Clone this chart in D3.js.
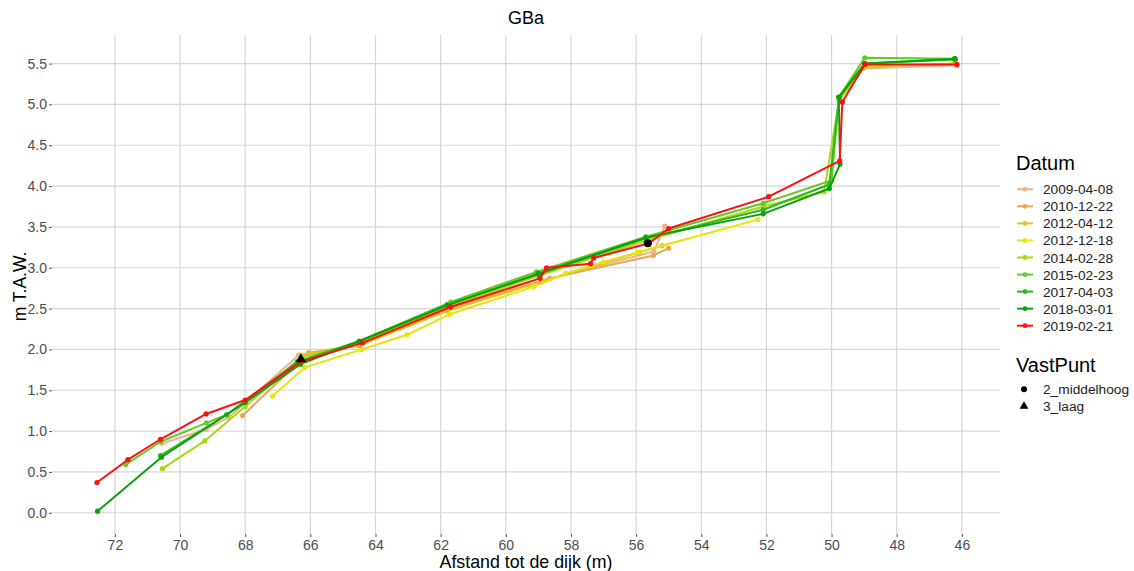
<!DOCTYPE html>
<html><head><meta charset="utf-8">
<script src="https://cdn.jsdelivr.net/npm/d3@7"></script>
<style>
html,body{margin:0;padding:0;background:#fff;}
svg{display:block;font-family:"Liberation Sans",Arial,sans-serif;}
</style></head>
<body><svg id="c" width="1134" height="571"></svg>
<script>
// ---- data ----
const datums = ["2009-04-08","2010-12-22","2012-04-12","2012-12-18","2014-02-28","2015-02-23","2017-04-03","2018-03-01","2019-02-21"];
const kleuren = ["#EBB48C","#E8A850","#E6C224","#E6E60A","#A8D810","#66C824","#2CB81C","#0CA00C","#FF1010"];

const afstand2009 = [70.55,69.2,68.5,66.36,64.5,61.8,58.9,55.45,55.12,null,49.03,46.17];
const hoogte2009  = [0.85,1.02,1.17,1.93,2.05,2.50,2.84,3.20,3.51,null,5.44,5.48];
const afstand2010 = [68.08,66.05,64.5,61.8,58.65,55.47,55.0];
const hoogte2010  = [1.19,1.96,2.05,2.48,2.87,3.15,3.24];
const afstand2012a = [66.3,64.5,61.8,58.9,55.9,55.2];
const hoogte2012a  = [1.93,2.05,2.47,2.83,3.19,3.27];
const afstand2012b = [67.16,66.17,64.43,63.03,61.72,59.14,58.16,57.01,55.94,52.26];
const hoogte2012b  = [1.43,1.78,2.00,2.18,2.43,2.77,2.93,3.07,3.19,3.59];
const afstand2014 = [70.54,69.24,68.0,66.3,64.5,61.8,59.0,55.7,52.1,50.23,49.77,48.98,46.22];
const hoogte2014  = [0.54,0.88,1.30,1.90,2.08,2.52,2.90,3.33,3.75,3.93,5.05,5.46,5.50];
const afstand2015 = [71.67,70.6,69.19,68.57,66.4,64.5,61.69,59.06,55.7,52.1,50.0,49.77,48.98,46.22];
const hoogte2015  = [0.59,0.87,1.10,1.20,1.83,2.10,2.58,2.95,3.38,3.79,4.07,5.09,5.57,5.56];
const afstand2017 = [70.6,68.57,66.4,64.5,61.8,59.0,55.7,52.1,50.07,49.77,48.98,46.2];
const hoogte2017  = [0.70,1.20,1.85,2.10,2.55,2.92,3.36,3.71,4.02,5.08,5.50,5.55];
const afstand2018 = [72.53,70.57,68.0,66.3,64.5,61.8,59.0,55.7,52.1,50.07,49.74,49.78,48.98,46.22];
const hoogte2018  = [0.02,0.68,1.35,1.82,2.10,2.54,2.93,3.37,3.66,3.97,4.27,5.09,5.50,5.56];
const afstand2019 = [72.55,71.6,70.6,69.2,68.0,66.3,64.4,61.7,58.95,58.75,57.4,57.3,55.6,55.0,51.93,49.75,49.67,48.98,46.15];
const hoogte2019  = [0.37,0.65,0.90,1.21,1.38,1.85,2.08,2.52,2.87,3.00,3.05,3.12,3.30,3.48,3.87,4.31,5.03,5.49,5.49];

const vastNamen = ["2_middelhoog","3_laag"];
const vastAfstand = [55.64,66.29];
const vastHoogte = [3.30,1.88];

const xTicks = [72,70,68,66,64,62,60,58,56,54,52,50,48,46];
const yTicks = [0,0.5,1,1.5,2,2.5,3,3.5,4,4.5,5,5.5];

const reeksen = [
  [afstand2009,hoogte2009],[afstand2010,hoogte2010],[afstand2012a,hoogte2012a],
  [afstand2012b,hoogte2012b],[afstand2014,hoogte2014],[afstand2015,hoogte2015],
  [afstand2017,hoogte2017],[afstand2018,hoogte2018],[afstand2019,hoogte2019]
].map((r,i)=>({datum:datums[i],kleur:kleuren[i],pts:r[0].map((x,j)=>({x:x,y:r[1][j]}))}));

// ---- layout ----
const svg = d3.select("#c");
const L=52,R=1000,T=35,B=534;
const x = d3.scaleLinear().domain([73.93,44.83]).range([L,R]);
const y = d3.scaleLinear().domain([-0.26,5.85]).range([B,T]);
const grid="#d6d6d6";

// grid
svg.append("g").selectAll("line").data(xTicks).join("line")
  .attr("x1",d=>x(d)).attr("x2",d=>x(d)).attr("y1",T).attr("y2",B)
  .attr("stroke",grid).attr("stroke-width",1.2);
svg.append("g").selectAll("line").data(yTicks).join("line")
  .attr("y1",d=>y(d)).attr("y2",d=>y(d)).attr("x1",L).attr("x2",R)
  .attr("stroke",grid).attr("stroke-width",1.2);

// axes
const xAx = svg.append("g").attr("transform",`translate(0,${B})`)
  .call(d3.axisBottom(x).tickValues(xTicks).tickFormat(d3.format("d")).tickSize(3).tickPadding(3));
const yAx = svg.append("g").attr("transform",`translate(${L},0)`)
  .call(d3.axisLeft(y).tickValues(yTicks).tickFormat(d3.format(".1f")).tickSize(3).tickPadding(2));
[xAx,yAx].forEach(a=>{
  a.select(".domain").remove();
  a.selectAll(".tick line").attr("stroke","#555").attr("stroke-width",1);
  a.selectAll(".tick text").attr("fill","#4d4d4d").attr("font-size","14px")
    .attr("font-family","Liberation Sans, Arial, sans-serif");
});

// lines & points
const line = d3.line().defined(d=>d.x!=null).x(d=>x(d.x)).y(d=>y(d.y));
const gS = svg.append("g");
reeksen.forEach(s=>{
  gS.append("path").datum(s.pts).attr("d",line).attr("fill","none")
    .attr("stroke",s.kleur).attr("stroke-width",2).attr("stroke-linejoin","round");
  gS.append("g").selectAll("circle").data(s.pts.filter(d=>d.x!=null)).join("circle")
    .attr("cx",d=>x(d.x)).attr("cy",d=>y(d.y)).attr("r",2.6).attr("fill",s.kleur);
});

// fixed points
svg.append("circle").attr("cx",x(vastAfstand[0])).attr("cy",y(vastHoogte[0])).attr("r",4).attr("fill","#000");
svg.append("path").attr("d",d3.symbol(d3.symbolTriangle,48)())
  .attr("transform",`translate(${x(vastAfstand[1])},${y(vastHoogte[1])})`).attr("fill","#000");

// titles
svg.append("text").attr("x",(L+R)/2).attr("y",24).attr("text-anchor","middle")
  .attr("font-size","18px").attr("fill","#000").text("GBa");
svg.append("text").attr("x",(L+R)/2).attr("y",568).attr("text-anchor","middle")
  .attr("font-size","17.8px").attr("fill","#000").text("Afstand tot de dijk (m)");
svg.append("text").attr("transform",`translate(26,${(T+B)/2+2}) rotate(-90)`).attr("text-anchor","middle")
  .attr("font-size","17.5px").attr("fill","#000").text("m T.A.W.");

// legend Datum
const lg = svg.append("g");
lg.append("text").attr("x",1016).attr("y",170).attr("font-size","20px").attr("fill","#000").text("Datum");
datums.forEach((d,i)=>{
  const yy = 189.3 + i*17.05;
  lg.append("line").attr("x1",1017).attr("x2",1033).attr("y1",yy).attr("y2",yy).attr("stroke",kleuren[i]).attr("stroke-width",2);
  lg.append("circle").attr("cx",1025).attr("cy",yy).attr("r",2.4).attr("fill",kleuren[i]);
  lg.append("text").attr("x",1043).attr("y",yy+5).attr("font-size","13.7px").attr("fill","#222").text(d);
});
lg.append("text").attr("x",1016).attr("y",371.5).attr("font-size","20px").attr("fill","#000").text("VastPunt");
lg.append("circle").attr("cx",1024).attr("cy",389.3).attr("r",3).attr("fill","#000");
lg.append("path").attr("d",d3.symbol(d3.symbolTriangle,34)()).attr("transform","translate(1024,406.3)").attr("fill","#000");
lg.append("text").attr("x",1043).attr("y",394.3).attr("font-size","13.7px").attr("fill","#222").text(vastNamen[0]);
lg.append("text").attr("x",1043).attr("y",411.3).attr("font-size","13.7px").attr("fill","#222").text(vastNamen[1]);
</script></body></html>
